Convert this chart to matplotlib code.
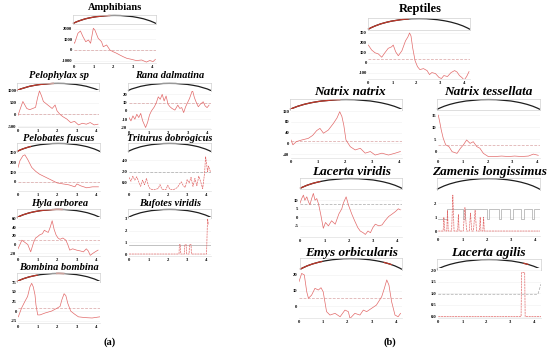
import matplotlib
matplotlib.use('Agg')
import matplotlib.pyplot as plt
from matplotlib.patches import Arc
import numpy as np

# ---------------- data ----------------
x_ticks = [0, 1, 2, 3, 4]

amph_x = [0, 0.03, 0.2, 0.33, 0.46, 0.6, 0.74, 0.85, 0.99, 1.07, 1.24, 1.41, 1.5, 1.67, 1.84, 2.0, 2.18, 2.35, 2.52, 2.7, 2.95, 3.2, 3.46, 3.71, 3.88, 4.05, 4.17]
amph_y = [700, 640, 1590, 1810, 1270, 790, 950, 640, 2070, 1900, 1110, 790, 310, 480, 0, -160, -310, -480, -640, -790, -890, -1010, -950, -1150, -1000, -1100, -890]
amph_thr = 0
amph_yt = [2000, 1000, 0, -1000]

pelo_x = [0, 0.1, 0.25, 0.35, 0.45, 0.6, 0.75, 0.9, 1.0, 1.1, 1.2, 1.3, 1.45, 1.6, 1.75, 1.9, 2.0, 2.15, 2.3, 2.5, 2.7, 2.9, 3.1, 3.3, 3.5, 3.7, 3.9, 4.1]
pelo_y = [-50, 200, 550, 400, 250, 200, 250, 300, 700, 1000, 800, 550, 450, 350, 250, 400, 150, 0, -100, -200, -350, -300, -450, -380, -420, -350, -450, -420]
pelo_thr = 0
pelo_yt = [1000, 500, 0, -500]

rana_x = [0, 0.1, 0.2, 0.3, 0.4, 0.5, 0.6, 0.7, 0.85, 0.95, 1.05, 1.15, 1.3, 1.4, 1.5, 1.6, 1.7, 1.8, 1.9, 2.0, 2.1, 2.2, 2.35, 2.5, 2.6, 2.7, 2.8, 2.9, 3.0, 3.1, 3.25, 3.35, 3.45, 3.55, 3.65, 3.8, 3.9, 4.0, 4.1]
rana_y = [-8, -12, -6, -10, -4, -8, -3, -12, -20, -14, -5, 0, 5, 10, 17, 14, 20, 12, 18, 8, 5, 3, 1, 7, 3, 4, -2, 5, 10, 15, 25, 16, 10, 5, 8, 11, 6, 4, 7]
rana_thr = 10
rana_yt = [20, 10, 0, -10, -20]

pelob_x = [0, 0.1, 0.25, 0.35, 0.5, 0.7, 0.9, 1.1, 1.3, 1.5, 1.7, 2.0, 2.3, 2.6, 2.9, 3.0, 3.2, 3.5, 3.8, 4.1]
pelob_y = [150, 220, 270, 280, 230, 150, 110, 80, 60, 40, 20, -10, -20, -30, -50, -20, -40, -60, -50, -50]
pelob_thr = 0
pelob_yt = [300, 200, 100, 0]

trit_x = [0, 0.1, 0.2, 0.3, 0.4, 0.5, 0.6, 0.7, 0.8, 0.9, 1.0, 1.1, 1.3, 1.5, 1.6, 1.7, 1.9, 2.0, 2.1, 2.3, 2.5, 2.6, 2.7, 2.8, 2.9, 3.0, 3.1, 3.2, 3.3, 3.4, 3.5, 3.6, 3.7, 3.8, 3.9, 3.95, 4.0, 4.05, 4.1, 4.2]
trit_y = [1.0, 0.3, 1.2, 0.5, 1.1, 0.2, -0.6, 0.5, -0.3, 0.8, -0.5, -1.1, -1.2, -1.0, -0.3, -1.1, -1.2, -0.4, -1.1, -1.2, -0.8, -0.2, 0.2, -0.5, -0.8, 0.6, 0.0, 1.0, -0.6, 0.8, -0.5, 1.2, 0.2, -1.0, 1.8, 4.7, 3.5, 2.0, 3.0, 2.0]
trit_thr = 2.0
trit_yt = [4.0, 2.0, 0.0]

hyla_x = [0, 0.1, 0.2, 0.35, 0.5, 0.65, 0.8, 0.9, 1.0, 1.1, 1.25, 1.35, 1.45, 1.55, 1.65, 1.75, 1.85, 1.95, 2.05, 2.15, 2.3, 2.45, 2.55, 2.65, 2.8, 3.0, 3.2, 3.35, 3.5, 3.6, 3.7, 3.85, 3.95, 4.1]
hyla_y = [-10, 0, 10, 5, 0, -17, 5, 15, 18, 22, 25, 33, 30, 28, 40, 55, 35, 22, 15, 12, 15, 10, 0, -13, -10, -13, -15, -17, -10, -15, -25, -20, -17, -13]
hyla_thr = 10
hyla_yt = [60, 40, 20, 0, -20]

bufo_x = [0, 2.58, 2.6, 2.65, 2.67, 2.86, 2.88, 2.95, 2.97, 3.1, 3.12, 3.2, 3.22, 4.0, 4.05, 4.1]
bufo_y = [0, 0, 0.8, 0.8, 0, 0, 0.8, 0.8, 0, 0, 0.8, 0.8, 0, 0, 3.0, 2.5]
bufo_thr = 0.8
bufo_yt = [3, 2, 1, 0]

bomb_x = [0, 0.17, 0.34, 0.48, 0.6, 0.69, 0.77, 0.86, 0.91, 1.0, 1.12, 1.38, 1.72, 1.98, 2.15, 2.25, 2.36, 2.45, 2.55, 2.7, 2.9, 3.1, 3.45, 3.8, 4.2]
bomb_y = [-15, 8, 25, 38, 63, 72, 63, 42, 16, -10, -10, -5, 0, 7, 12, 30, 45, 40, 20, 0, -8, -15, -17, -18, -15]
bomb_thr = 8
bomb_yt = [75, 50, 25, 0, -25]

rept_x = [0, 0.14, 0.28, 0.42, 0.56, 0.69, 0.83, 0.97, 1.04, 1.14, 1.25, 1.4, 1.55, 1.65, 1.72, 1.78, 1.85, 1.95, 2.05, 2.15, 2.3, 2.45, 2.55, 2.65, 2.8, 2.95, 3.05, 3.15, 3.3, 3.45, 3.6, 3.7, 3.8, 3.9, 4.0, 4.1, 4.2]
rept_y = [178, 128, 100, 88, 55, 100, 145, 160, 178, 110, 70, 120, 220, 260, 300, 270, 150, 20, -40, -70, -60, -80, -120, -100, -110, -150, -160, -130, -140, -100, -80, -95, -130, -150, -175, -140, -90]
rept_thr = 40
rept_yt = [300, 200, 100, 0, -100]

nnat_x = [0, 0.07, 0.2, 0.4, 0.64, 0.8, 0.95, 1.07, 1.2, 1.38, 1.57, 1.7, 1.8, 1.88, 1.95, 2.03, 2.19, 2.37, 2.56, 2.74, 2.93, 3.11, 3.36, 3.6, 3.85, 4.04]
nnat_y = [13, -5, 7, 13, 19, 30, 48, 56, 38, 50, 75, 95, 118, 100, 68, 13, -12, -24, -18, -36, -30, -43, -36, -43, -36, -30]
nnat_thr = 10
nnat_yt = [120, 80, 40, 0, -40]

ntes_x = [0, 0.07, 0.12, 0.2, 0.3, 0.43, 0.56, 0.76, 0.9, 1.02, 1.15, 1.29, 1.42, 1.56, 1.69, 1.83, 2.03, 2.3, 2.57, 2.85, 3.1, 3.38, 3.66, 3.86, 4.06]
ntes_y = [15, 11.6, 8.9, 5.5, 2.8, 2.1, 0, -0.7, 1.4, 2.8, 4.8, 3.4, 4.1, 2.1, 1.4, -0.7, -2, -2, -1.8, -2, -1.8, -2, -1.8, -1, -1.5]
ntes_thr = 2.7
ntes_yt = [15, 10, 5, 0]

lvir_x = [0, 0.07, 0.14, 0.2, 0.28, 0.35, 0.41, 0.48, 0.55, 0.62, 0.69, 0.76, 0.85, 0.96, 1.05, 1.17, 1.3, 1.45, 1.6, 1.72, 1.79, 1.9, 2.0, 2.13, 2.25, 2.38, 2.48, 2.6, 2.69, 2.8, 2.9, 3.0, 3.1, 3.25, 3.38, 3.5, 3.65, 3.8, 3.93, 4.05, 4.13]
lvir_y = [8.3, 11, 13, 10, 12, 9, 7.4, 11, 14, 10, 11, 8, 2, -6.4, -3, -5, -2, -4, 2, 5, 8.5, 12, 7, 2, -2, -6, -8, -9, -10, -8, -9, -6, -4, -5, -4.4, -2, 0.5, 2, 3.4, 5, 4.4]
lvir_thr = 8
lvir_yt = [10, 5, 0, -5]

zam_x = [0, 0.2, 0.23, 0.27, 0.35, 0.38, 0.41, 0.55, 0.6, 0.65, 0.8, 0.83, 0.86, 1.03, 1.1, 1.17, 1.28, 1.33, 1.38, 1.45, 1.52, 1.58, 1.7, 1.73, 1.76, 1.84, 1.87, 1.9, 4.2]
zam_y = [0, 0, 1.0, 0, 0, 1.5, 0, 0, 2.6, 0, 0, 1.2, 0, 0, 1.7, 0, 0, 1.3, 0, 0, 1.5, 0, 0, 1.0, 0, 0, 1.0, 0, 0]
zam_gray_x = [0, 0.35, 1.0, 1.1, 2.0, 2.1, 2.5, 2.6, 2.95, 3.1, 3.4, 3.55, 3.85, 3.95, 4.2]
zam_gray_y = [0.85, 1.6, 0.85, 1.6, 0.85, 1.6, 0.85, 1.6, 0.85, 1.6, 0.85, 1.6, 0.85, 1.6, 1.6]
zam_yt = [2, 1, 0]

emys_x = [0, 0.11, 0.22, 0.32, 0.39, 0.52, 0.66, 0.8, 0.91, 1.0, 1.07, 1.14, 1.28, 1.49, 1.7, 1.9, 2.04, 2.11, 2.31, 2.52, 2.66, 2.8, 3.0, 3.2, 3.42, 3.53, 3.63, 3.72, 3.83, 3.97, 4.1, 4.2]
emys_y = [15.7, 21, 20, 9.2, 5, 7, 11.4, 10.3, 11.8, 9.2, 2.8, -3.6, -5.8, -4.7, -6.9, -2.6, -3.6, -8, -4.7, -5.8, -2.6, -3.6, -1.5, 0.6, 6, 11.4, 16.8, 13.5, 2.8, -5.8, -6.9, -4.7]
emys_thr = 5.2
emys_yt = [20, 10, 0]

lagi_x = [0, 3.45, 3.47, 3.6, 3.62, 4.28]
lagi_y = [0, 0, 1.9, 1.9, 0, 0]
lagi_thr_x = [0, 4.15, 4.28]
lagi_thr_y = [0.96, 0.96, 1.4]
lagi_yt = [2.0, 1.5, 1.0, 0.5, 0.0]

# ---------------- drawing ----------------
W, H = 550, 350
fig = plt.figure(figsize=(5.5, 3.5), dpi=100)
fig.patch.set_facecolor('white')

RED = '#e26a6a'
THR = '#d9a3a3'
GRAY = '#a8a8a8'
SERIF = ['Liberation Serif', 'DejaVu Serif']


def box(l, t, r, b):
    return [l / W, 1 - b / H, (r - l) / W, (b - t) / H]


def theta_for(xf, a, b):
    c = np.clip((xf - 0.5) / a, -1, 1)
    phi = np.arccos(c)
    return np.degrees(np.arctan2(b * np.sin(phi), a * np.cos(phi)))


def arc_axes(abox, spans):
    ax = fig.add_axes(box(*abox))
    ax.set_xlim(0, 1)
    ax.set_ylim(0, 1)
    ax.set_xticks([])
    ax.set_yticks([])
    for s in ax.spines.values():
        s.set_color('#d0d0d0')
        s.set_linewidth(0.5)
    a, bb, yc = 0.6, 2.01, -1.06
    ax.add_patch(Arc((0.5, yc), 2 * a, 2 * bb, theta1=theta_for(1.0, a, bb),
                     theta2=theta_for(0.0, a, bb), color='#1e1e1e', lw=0.9, clip_on=False))
    for f0, f1 in spans:
        ax.add_patch(Arc((0.5, yc), 2 * a, 2 * bb, theta1=theta_for(f1, a, bb),
                         theta2=theta_for(f0, a, bb), color='#c0392b', lw=0.9, clip_on=False))
    return ax


def main_axes(pbox, xmax, ylim, yticks, fmt):
    ax = fig.add_axes(box(*pbox))
    ax.set_xlim(0, xmax)
    ax.set_ylim(*ylim)
    ax.set_xticks(x_ticks)
    ax.set_xticklabels([str(v) for v in x_ticks])
    ax.set_yticks(yticks)
    ax.set_yticklabels([fmt.format(v) for v in yticks])
    ax.tick_params(length=0, pad=1.2, labelsize=3.3)
    for lab in ax.get_xticklabels() + ax.get_yticklabels():
        lab.set_family(SERIF)
        lab.set_fontweight('bold')
    for k, s in ax.spines.items():
        s.set_visible(k == 'bottom')
        s.set_color('#e0e0e0')
        s.set_linewidth(0.5)
    ax.grid(axis='y', color='#efefef', lw=0.4)
    ax.set_axisbelow(True)
    return ax


def title(txt, cx, cy, size, italic=True):
    fig.text(cx / W, 1 - cy / H, txt, ha='center', va='center', fontsize=size,
             family=SERIF, fontweight='bold', style='italic' if italic else 'normal')


# ---- (a) Amphibians ----
title('Amphibians', 115, 8, 7.5, italic=False)
arc_axes((73, 15, 156, 24), [(0, 0.45)])
ax = main_axes((74, 27, 156, 63), 4.2, (-1238, 2190), amph_yt, '{:d}')
ax.axhline(amph_thr, color=THR, lw=0.5, ls=(0, (4, 2)))
ax.plot(amph_x, amph_y, color=RED, lw=0.5)

title('Pelophylax sp', 59, 75, 7.5)
arc_axes((17, 83, 99, 91), [(0, 0.45)])
ax = main_axes((18, 90, 99, 127), 4.15, (-540, 1040), pelo_yt, '{:d}')
ax.axhline(pelo_thr, color=THR, lw=0.5, ls=(0, (4, 2)))
ax.plot(pelo_x, pelo_y, color=RED, lw=0.5)

title('Rana dalmatina', 170, 75, 7.5)
arc_axes((128, 83, 211, 91), [])
ax = main_axes((129, 91, 211, 129), 4.2, (-21.8, 24), rana_yt, '{:d}')
ax.axhline(rana_thr, color=THR, lw=0.5, ls=(0, (4, 2)))
ax.plot(rana_x, rana_y, color=RED, lw=0.5)

title('Pelobates fuscus', 59, 138, 7.5)
arc_axes((17, 143, 100, 152), [(0, 0.17)])
ax = main_axes((18, 152, 100, 191), 4.18, (-93, 309), pelob_yt, '{:d}')
ax.axhline(pelob_thr, color=THR, lw=0.5, ls=(0, (4, 2)))
ax.plot(pelob_x, pelob_y, color=RED, lw=0.5)

title('Triturus dobrogicus', 170, 138, 7.5)
arc_axes((128, 143, 211, 152), [])
ax = main_axes((129, 152, 211, 191), 4.23, (-1.43, 5.5), trit_yt, '{:.1f}')
ax.axhline(trit_thr, color=GRAY, lw=0.5, ls=(0, (4, 2)))
ax.plot(trit_x, trit_y, color=RED, lw=0.5, ls=(0, (3, 1)))

title('Hyla arborea', 60, 204, 7.5)
arc_axes((17, 209, 100, 218), [(0, 0.55)])
ax = main_axes((18, 217, 100, 256), 4.2, (-26.6, 63.6), hyla_yt, '{:d}')
ax.axhline(hyla_thr, color=THR, lw=0.5, ls=(0, (4, 2)))
ax.plot(hyla_x, hyla_y, color=RED, lw=0.5)

title('Bufotes viridis', 170, 204, 7.5)
arc_axes((128, 209, 211, 218), [])
ax = main_axes((129, 217, 211, 256), 4.23, (-0.17, 3.16), bufo_yt, '{:d}')
ax.axhline(bufo_thr, color=GRAY, lw=0.5)
ax.plot(bufo_x, bufo_y, color=RED, lw=0.5, ls=(0, (3, 1)))

title('Bombina bombina', 59, 268, 7.5)
arc_axes((17, 273, 100, 282), [(0, 0.25), (0.47, 0.57)])
ax = main_axes((18.3, 281, 100, 323), 4.21, (-31, 78), bomb_yt, '{:d}')
ax.axhline(bomb_thr, color=THR, lw=0.5, ls=(0, (4, 2)))
ax.plot(bomb_x, bomb_y, color=RED, lw=0.5)

fig.text(110 / W, 1 - 342 / H, '(a)', ha='center', va='center', fontsize=7.5,
         family=SERIF, fontweight='bold')

# ---- (b) Reptiles ----
title('Reptiles', 420, 9, 9, italic=False)
arc_axes((368, 18, 470, 30), [(0, 0.4)])
ax = main_axes((368.3, 31, 470, 79), 4.24, (-165, 320), rept_yt, '{:d}')
ax.axhline(rept_thr, color=THR, lw=0.5, ls=(0, (4, 2)))
ax.plot(rept_x, rept_y, color=RED, lw=0.5)

title('Natrix natrix', 350, 92, 9.5)
arc_axes((290, 99, 402, 110), [(0, 0.45)])
ax = main_axes((291, 109, 402, 158), 4.1, (-54, 128), nnat_yt, '{:d}')
ax.axhline(nnat_thr, color=THR, lw=0.5, ls=(0, (4, 2)))
ax.plot(nnat_x, nnat_y, color=RED, lw=0.5)

title('Natrix tessellata', 488, 92, 9.5)
arc_axes((437, 99, 540, 110), [])
ax = main_axes((438.3, 111, 540, 158), 4.13, (-2.6, 16.7), ntes_yt, '{:d}')
ax.axhline(ntes_thr, color=THR, lw=0.5, ls=(0, (4, 2)))
ax.plot(ntes_x, ntes_y, color=RED, lw=0.5)

title('Lacerta viridis', 352, 172, 9.5)
arc_axes((300, 178, 402, 189), [(0, 0.2)])
ax = main_axes((300, 190, 402, 237), 4.2, (-11.5, 16), lvir_yt, '{:d}')
ax.axhline(lvir_thr, color=GRAY, lw=0.5, ls=(0, (4, 2)))
ax.plot(lvir_x, lvir_y, color=RED, lw=0.5)

title('Zamenis longissimus', 489, 172, 9.5)
arc_axes((437, 178, 540, 190), [])
ax = main_axes((438.3, 190, 540, 236), 4.2, (-0.36, 2.97), zam_yt, '{:d}')
ax.plot(zam_gray_x, zam_gray_y, color=GRAY, lw=0.5, drawstyle='steps-post')
ax.plot(zam_x, zam_y, color=RED, lw=0.5, ls=(0, (3, 1)))

title('Emys orbicularis', 352, 253, 9.5)
arc_axes((300, 258, 402, 270), [(0, 0.22), (0.82, 0.9)])
ax = main_axes((299, 270, 402, 318), 4.26, (-7.7, 23.2), emys_yt, '{:d}')
ax.axhline(emys_thr, color=THR, lw=0.5, ls=(0, (4, 2)))
ax.plot(emys_x, emys_y, color=RED, lw=0.5)

title('Lacerta agilis', 488, 253, 9.5)
arc_axes((437, 259, 541, 270), [(0.83, 0.88)])
ax = main_axes((438.3, 268, 541, 318), 4.28, (-0.06, 2.09), lagi_yt, '{:.1f}')
ax.plot(lagi_thr_x, lagi_thr_y, color=GRAY, lw=0.5, ls=(0, (4, 2)))
ax.plot(lagi_x, lagi_y, color=RED, lw=0.5, ls=(0, (3, 1)))

fig.text(390 / W, 1 - 342 / H, '(b)', ha='center', va='center', fontsize=7.5,
         family=SERIF, fontweight='bold')

fig.savefig('out.png', dpi=100, facecolor='white')
